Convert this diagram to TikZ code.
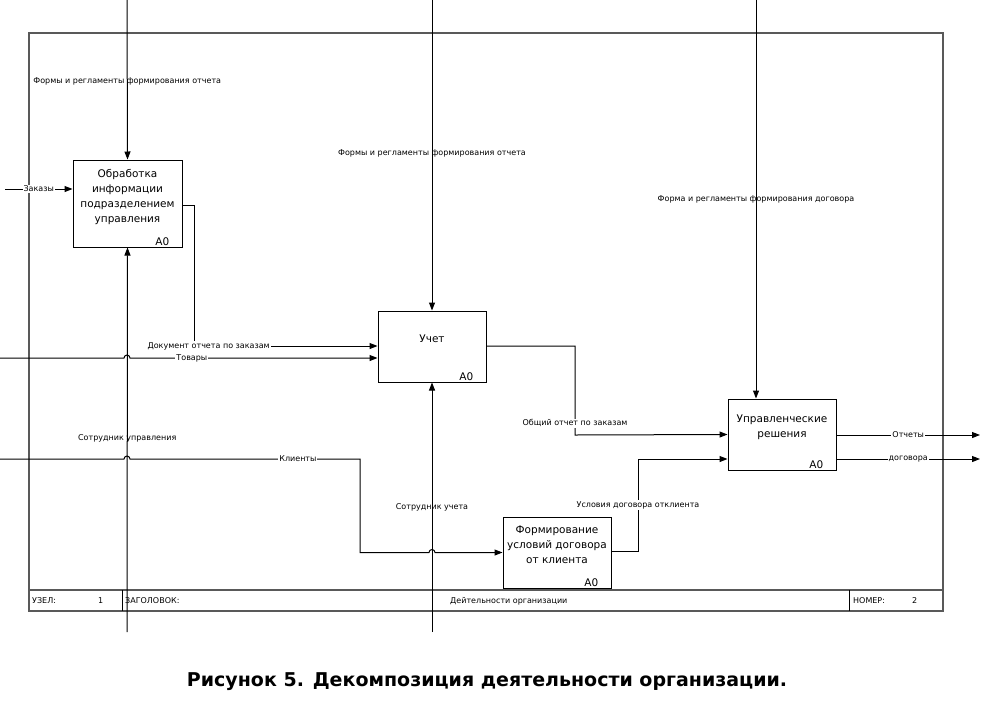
\documentclass[tikz,border=0pt]{standalone}
\usepackage{fontspec}
\setmainfont{DejaVu Sans}
\usepackage{tikz}
\usetikzlibrary{positioning, arrows.meta}

\begin{document}
\begin{tikzpicture}[x=1pt, y=-1pt,
		font=\fontsize{8}{9.5}\selectfont,
		fnbox/.style={draw, line width=1pt, minimum width=109pt, minimum height=71pt, align=center, inner sep=2pt, text depth=16pt, font=\fontsize{10.5}{15}\selectfont},
		code/.style={anchor=south east, inner xsep=13pt, inner ysep=2pt, font=\fontsize{10.5}{12}\selectfont},
		flow/.style={draw, line width=1pt, -{Triangle[length=8pt, width=6pt]}},
		lbl/.style={fill=white, inner sep=1pt},
		vlbl/.style={inner sep=1pt},
		frame/.style={draw=gray!70!black, line width=1.4pt},
		cell/.style={anchor=west, inner sep=0pt}]

	\useasboundingbox (0,0) rectangle (992,707);

	\draw[frame] (29,33) rectangle (943,611);
	\draw[frame] (29,590) -- (943,590);
	\draw[line width=1pt] (122,590) -- (122,611);
	\draw[line width=1pt] (849,590) -- (849,611);
	\node[cell] (uzel) at (32,601) {УЗЕЛ:};
	\node[cell] (uzelnum) at (98,601) {1};
	\node[cell] (zag) at (125,601) {ЗАГОЛОВОК:};
	\node[cell] (title) at (450,601) {Дейтельности организации};
	\node[cell] (nomer) at (853,601) {НОМЕР:};
	\node[cell] (nomernum) at (912,601) {2};

	\node[fnbox, minimum height=87pt] (obr) at (127.5,203.5) {Обработка\\информации\\подразделением\\управления};
	\node[code] (obrA) at (obr.south east) {A0};
	\node[fnbox, minimum width=108pt] (uch) at (432,346.5) {Учет};
	\node[code] (uchA) at (uch.south east) {A0};
	\node[fnbox, minimum width=108pt] (upr) at (782,434.5) {Управленческие\\решения};
	\node[code] (uprA) at (upr.south east) {A0};
	\node[fnbox, minimum width=108pt] (frm) at (557,552.5) {Формирование\\условий договора\\от клиента};
	\node[code] (frmA) at (frm.south east) {A0};

	\coordinate (ctlA) at (127,0);
	\coordinate (ctlB) at (432,0);
	\coordinate (ctlC) at (756,0);
	\coordinate (mecA) at (127,632);
	\coordinate (mecB) at (432,632);
	\coordinate (zakIn) at (5,189);
	\coordinate (tovIn) at (0,358);
	\coordinate (kliIn) at (0,459);
	\coordinate (otcOut) at (980,435);
	\coordinate (dogOut) at (980,459);

	\draw[flow] (ctlA) -- node[vlbl, pos=0.51] (ctlAl) {Формы и регламенты формирования отчета} (obr.north);
	\draw[flow] (mecA) -- node[vlbl, pos=0.504] (mecAl) {Сотрудник управления} (obr.south);
	\draw[flow] (ctlB) -- node[vlbl, pos=0.495] (ctlBl) {Формы и регламенты формирования отчета} (uch.north);
	\draw[flow] (mecB) -- node[vlbl, pos=0.5] (mecBl) {Сотрудник учета} (uch.south);
	\draw[flow] (ctlC) -- node[vlbl, pos=0.5] (ctlCl) {Форма и регламенты формирования договора} (ctlC |- upr.north);

	\draw[flow] (zakIn) -- node[lbl, pos=0.5] (zakl) {Заказы} (obr.west |- zakIn);
	\draw[flow] ([yshift=-1.5pt]obr.east) -| (194,346) -- node[lbl, pos=0.08] (docl) {Документ отчета по заказам} (uch.west |- 0,346);
	\draw[flow] (tovIn) -- (124,358) arc[start angle=180, end angle=360, radius=3] -- node[lbl, pos=0.25] (tovl) {Товары} (uch.west |- tovIn);
	\draw[flow] (kliIn) -- (124,459) arc[start angle=180, end angle=360, radius=3] -- node[lbl, pos=0.73] (klil) {Клиенты} (360,459) |- (429,552.5) arc[start angle=180, end angle=360, radius=3] -- (frm.west);
	\draw[flow] (uch.east |- 0,346) -- (575,346) -- node[lbl, pos=0.87] (obsl) {Общий отчет по заказам} (575,435) -- (upr.west);
	\draw[flow] ([yshift=1.5pt]frm.east) -| node[lbl, pos=0.75] (uslDl) {Условия договора отклиента} (638,459) -- (upr.west |- 0,459);
	\draw[flow] (upr.east |- otcOut) -- node[lbl, pos=0.5] (otcl) {Отчеты} (otcOut);
	\draw[flow] (upr.east |- dogOut) -- node[lbl, pos=0.5] (dogl) {договора} (dogOut);

	\node[font=\bfseries\fontsize{19}{22}\selectfont] (cap) at (487,682) {Рисунок 5. Декомпозиция деятельности организации.};
\end{tikzpicture}
\end{document}
